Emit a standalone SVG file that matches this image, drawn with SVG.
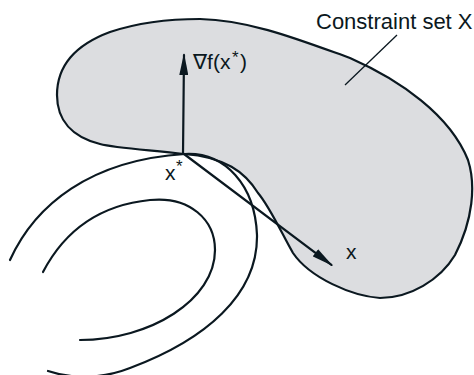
<svg xmlns="http://www.w3.org/2000/svg" width="474" height="375" viewBox="0 0 474 375">
<style>
.ln{fill:none;stroke:#0b1820;stroke-width:2.2;stroke-linecap:round;stroke-linejoin:round}
.set{fill:#dcdde0;stroke:#0b1820;stroke-width:2.2;stroke-linejoin:round}
.t{font-family:"Liberation Sans",Arial,"DejaVu Sans",sans-serif;fill:#0b1820;font-size:21px}
.s{font-family:"Liberation Sans",Arial,sans-serif;fill:#0b1820;font-size:17px}
</style>
<defs>
<marker id="ah" viewBox="0 0 22 9" markerWidth="22" markerHeight="9" refX="20" refY="4.5" orient="auto" markerUnits="userSpaceOnUse">
<path d="M0,0 L22,4.5 L0,9 z" fill="#0b1820"/>
</marker>
</defs>
<g id="constraint-set">
<path class="set" d="M184,154 C150,150 115,148 100,144 C72,137 57,120 57,95 C57,65 75,45 110,32 C140,22 170,19 200,19 C250,20 300,40 350,58 C400,80 450,115 468,160 C476,185 473,220 455,255 C440,280 410,298 380,298 C352,296 310,278 293,253 C283,236 270,207 258,193 C245,172 225,157 184,154 Z"/>
</g>
<g id="level-curve-outer">
<path class="ln" d="M10,260 C35,205 90,160 185,154 C225,152 255,185 257,235 C258,295 205,340 130,368 C105,378 75,380 48,371"/>
</g>
<g id="level-curve-inner">
<path class="ln" d="M43,272 C65,230 100,205 150,200 C190,196 215,220 215,250 C215,300 150,340 80,340"/>
</g>
<g id="label-constraint">
<text class="t" x="316" y="29" style="font-size:22px">Constraint set X</text>
<line x1="397" y1="35" x2="345" y2="85" stroke="#0b1820" stroke-width="1.3"/>
</g>
<g id="label-gradient">
<text class="t" x="193" y="69">∇f(x</text>
<text class="s" x="232" y="63">*</text>
<text class="t" x="240" y="69">)</text>
</g>
<g id="label-xstar">
<text class="t" x="165" y="180">x</text>
<text class="s" x="176" y="172">*</text>
</g>
<g id="label-x">
<text class="t" x="346" y="259">x</text>
</g>
<g id="connectors">
<line class="ln" x1="183" y1="154" x2="184" y2="55" marker-end="url(#ah)"/>
<line class="ln" x1="184" y1="154" x2="331.4" y2="264.8" marker-end="url(#ah)"/>
</g>
</svg>
